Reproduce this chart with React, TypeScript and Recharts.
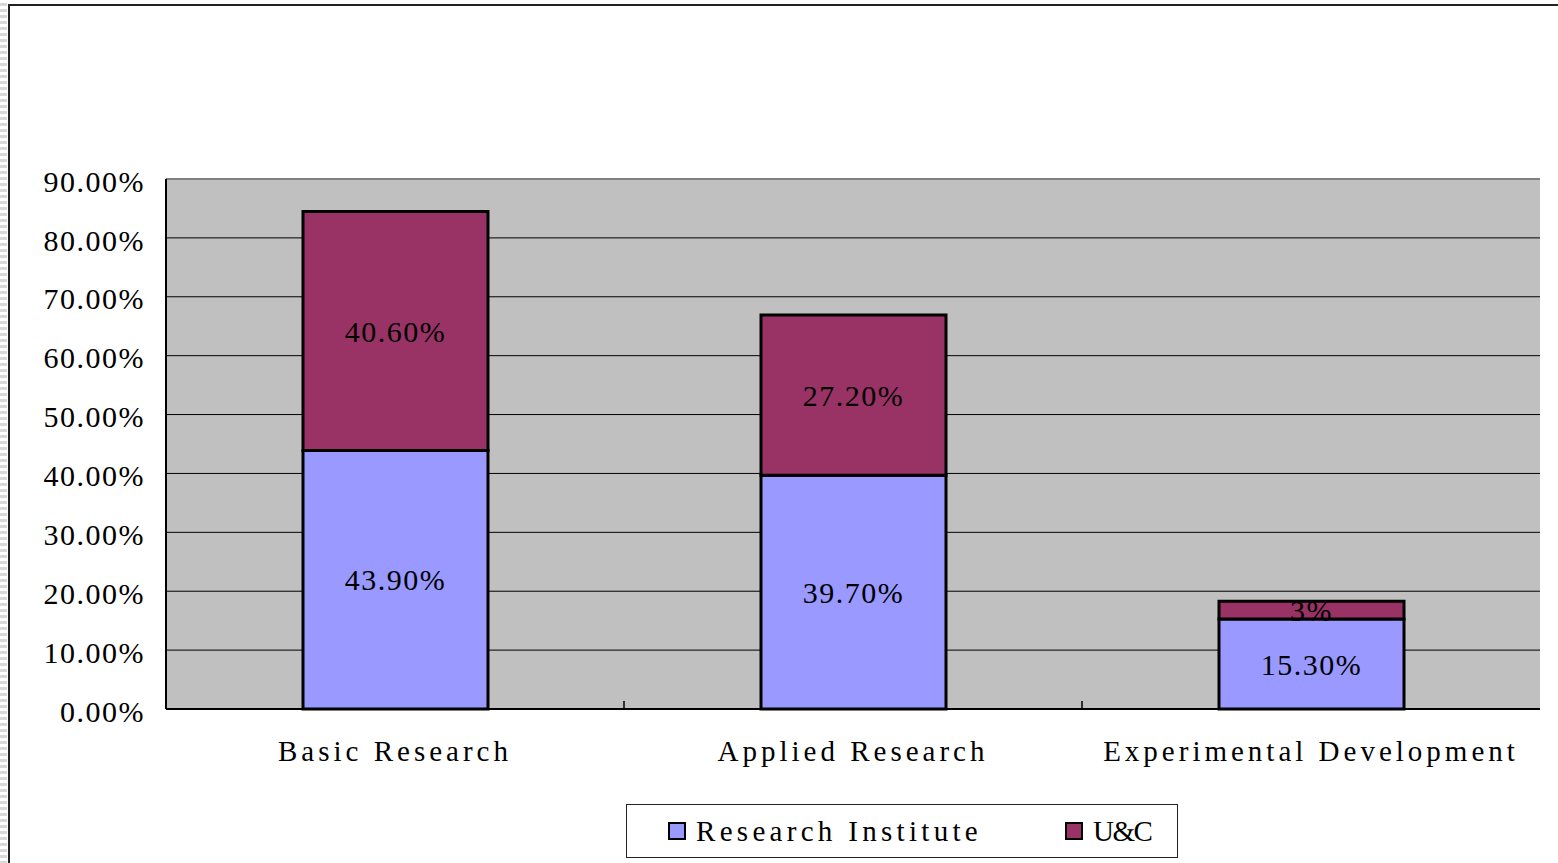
import { BarChart, Bar, XAxis, YAxis, CartesianGrid, LabelList, ReferenceLine } from 'recharts';

const categories = ['Basic Research', 'Applied Research', 'Experimental Development'];
const researchInstitute = [43.9, 39.7, 15.3];
const universities = [40.6, 27.2, 3];
const researchInstituteLabels = ['43.90%', '39.70%', '15.30%'];
const universitiesLabels = ['40.60%', '27.20%', '3%'];
const yTicks = [0, 10, 20, 30, 40, 50, 60, 70, 80, 90];

const series = [
    { key: 'ri', name: 'Research Institute', color: '#9999FF' },
    { key: 'uc', name: 'U&C', color: '#993366' }
];

const chartData = categories.map((name, i) => ({
    name,
    ri: researchInstitute[i],
    uc: universities[i],
    riLabel: researchInstituteLabels[i],
    ucLabel: universitiesLabels[i]
}));

const FONT = '"Liberation Serif", "DejaVu Serif", serif';
const WIDTH = 1558;
const MARGIN = { top: 179, right: 18, left: 16, bottom: 95 };
const Y_AXIS_WIDTH = 150;
const BAND = (WIDTH - MARGIN.left - MARGIN.right - Y_AXIS_WIDTH) / categories.length;

// small inward tick marks on the category boundaries
function BoundaryTick(props: any) {
    const { x, y, index } = props;
    if (index >= categories.length - 1) return <g />;
    const bx = x + BAND / 2;
    return <line x1={bx} x2={bx} y1={y - 8} y2={y} stroke="#000" strokeWidth={1.5} />;
}

function ChartLegend() {
    return (
        <div style={{
            position: 'absolute', left: 626, top: 804, width: 550, height: 52,
            border: '1px solid #222', background: '#fff', fontFamily: FONT, fontSize: 29, color: '#000'
        }}>
            {series.map((s, i) => (
                <div key={s.key} style={{
                    position: 'absolute', left: i === 0 ? 41 : 438, top: 0, height: 52,
                    display: 'flex', alignItems: 'center', letterSpacing: i === 0 ? 4.3 : -1.5
                }}>
                    <span style={{
                        display: 'inline-block', width: 14, height: 14, background: s.color,
                        border: '2.5px solid #000', marginRight: 10
                    }} />
                    <span>{s.name}</span>
                </div>
            ))}
        </div>
    );
}

export default function App() {
    return (
        <div style={{ position: 'absolute', left: 0, top: 0, width: 1558, height: 863, overflow: 'hidden', background: '#fff' }}>
            <div style={{
                position: 'absolute', left: 0, top: 0, width: 7, height: 863,
                background: 'repeating-linear-gradient(#fff 0px, #fff 3px, #d8d8d8 3px, #d8d8d8 6px)'
            }} />
            <div style={{ position: 'absolute', left: 8, top: 4, width: 1600, height: 900, border: '2px solid #222' }} />
            <div style={{ position: 'absolute', left: 0, top: 0 }}>
                <BarChart width={WIDTH} height={863} data={chartData} margin={MARGIN} barSize={185}>
                    <CartesianGrid vertical={false} stroke="#000" strokeWidth={1} fill="#C0C0C0" fillOpacity={1} />
                    <XAxis xAxisId="bounds" dataKey="name" mirror height={1} tickSize={0} tickMargin={0}
                        axisLine={false} tickLine={false} interval={0} tick={<BoundaryTick />} />
                    <XAxis dataKey="name" height={59} tickSize={0} tickMargin={31}
                        axisLine={{ stroke: '#000', strokeWidth: 2 }} tickLine={false}
                        tick={{ fill: '#000', fontSize: 29, fontFamily: FONT, letterSpacing: 4 }} />
                    <YAxis domain={[0, 90]} ticks={yTicks} width={Y_AXIS_WIDTH} tickSize={0} tickMargin={21}
                        interval={0} tickFormatter={(v: number) => v.toFixed(2) + '%'}
                        axisLine={{ stroke: '#000', strokeWidth: 2 }} tickLine={false}
                        tick={{ fill: '#000', fontSize: 30, fontFamily: FONT, letterSpacing: 1.5, dy: 2 }} />
                    <YAxis yAxisId="right" orientation="right" domain={[0, 90]} width={0}
                        tick={false} tickLine={false} axisLine={{ stroke: '#808080', strokeWidth: 3 }} />
                    <ReferenceLine y={90} stroke="#808080" strokeWidth={2} />
                    {series.map((s) => (
                        <Bar key={s.key} dataKey={s.key} name={s.name} stackId="a" fill={s.color}
                            stroke="#000" strokeWidth={3} isAnimationActive={false}>
                            <LabelList dataKey={s.key + 'Label'} position="center" fill="#000"
                                fontSize={30} fontFamily={FONT} letterSpacing={1.5} />
                        </Bar>
                    ))}
                </BarChart>
            </div>
            <ChartLegend />
        </div>
    );
}
